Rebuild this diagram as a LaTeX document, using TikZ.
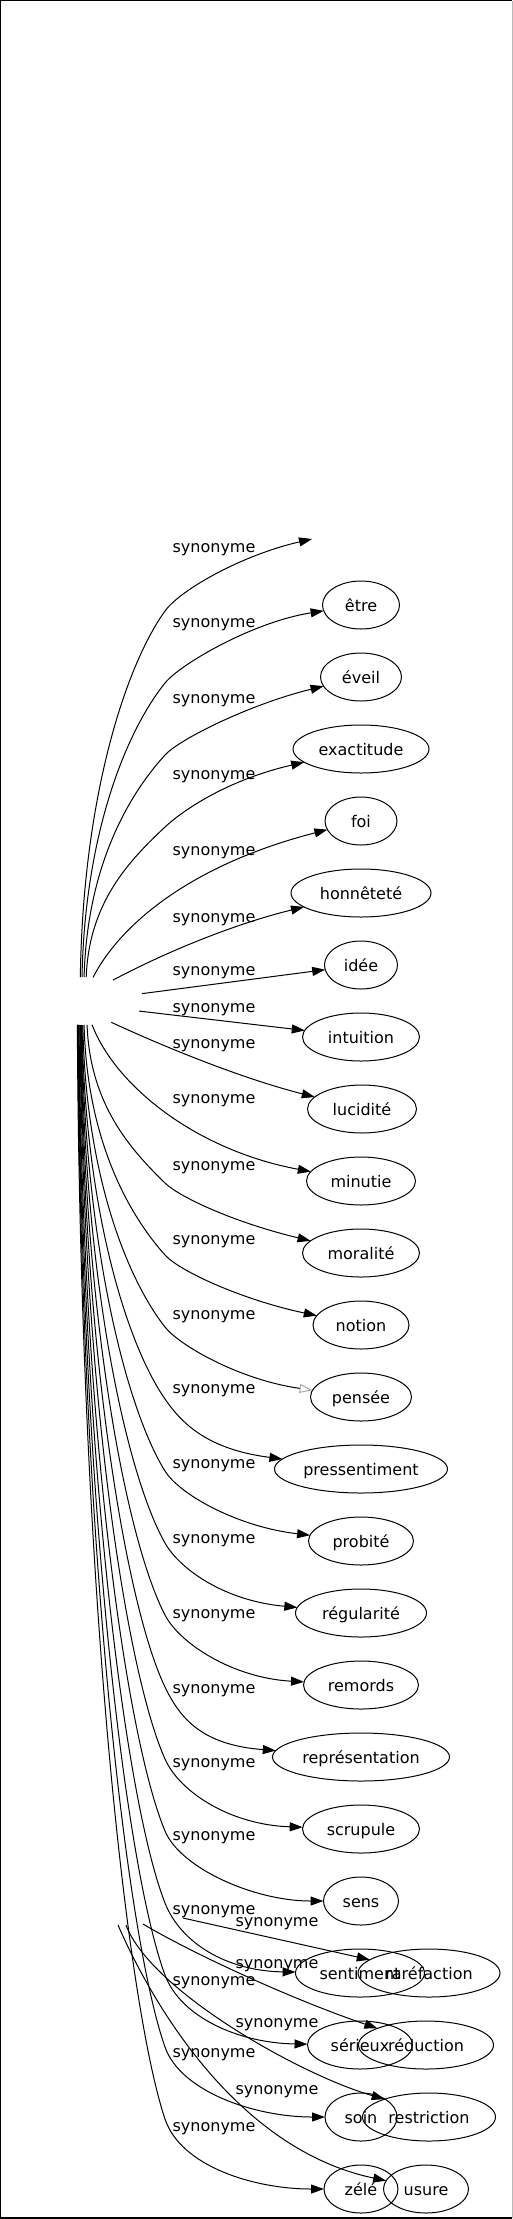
\documentclass[tikz,border=0pt]{standalone}
\usepackage{fontspec}
\setmainfont{DejaVu Sans}
\usetikzlibrary{arrows.meta,shapes.geometric}

\newcommand\myupedge[7]{%
  \pgfmathsetmacro\myang{atan2(24,#4-82)}%
  \pgfmathsetmacro\myky{#3+78}%
  \pgfmathsetmacro\myD{977-\myky}%
  \pgfmathsetmacro\mycay{977-0.5*\myD}%
  \pgfmathsetmacro\mycax{#4+3}%
  \pgfmathsetmacro\mycbx{165-0.45*(165-#4)}%
  \pgfmathsetmacro\mycby{\myky+0.09*\myD+20}%
  \pgfmathsetmacro\myccx{165+0.4*(165-\mycbx)}%
  \pgfmathsetmacro\myccy{\myky+0.4*(\myky-\mycby)}%
  \pgfmathsetmacro\mycdx{361-#6-70}%
  \pgfmathsetmacro\mycdy{#3+(#5)}%
  \pgfmathsetmacro\mylby{#7+5}%
  \draw[#1] (src.\myang) .. controls (\mycax,\mycay) and (\mycbx,\mycby) .. (165,\myky) .. controls (\myccx,\myccy) and (\mycdx,\mycdy) .. (#2);
  \node[lbl] (l#2) at (214,\mylby) {synonyme};
}
\newcommand\mylowedge[7]{%
  \pgfmathsetmacro\myang{atan2(-24,#4-82)}%
  \pgfmathsetmacro\myky{#3-70}%
  \pgfmathsetmacro\myD{\myky-1025}%
  \pgfmathsetmacro\mycay{1025+0.5*\myD}%
  \pgfmathsetmacro\mycax{#4+3}%
  \pgfmathsetmacro\mycbx{165-0.45*(165-#4)}%
  \pgfmathsetmacro\mycby{\myky-0.09*\myD-20}%
  \pgfmathsetmacro\myccx{165+0.4*(165-\mycbx)}%
  \pgfmathsetmacro\myccy{\myky+0.4*(\myky-\mycby)}%
  \pgfmathsetmacro\mycdx{361-#6-70}%
  \pgfmathsetmacro\mycdy{#3+(#5)}%
  \pgfmathsetmacro\mylby{#7+5}%
  \draw[#1] (src.\myang) .. controls (\mycax,\mycay) and (\mycbx,\mycby) .. (165,\myky) .. controls (\myccx,\myccy) and (\mycdx,\mycdy) .. (#2);
  \node[lbl] (l#2) at (214,\mylby) {synonyme};
}

\begin{document}
\begin{tikzpicture}[x=1pt,y=-1pt,
  every node/.style={font=\fontsize{16}{19}\selectfont},
  nd/.style={ellipse,draw,line width=1pt,inner sep=0pt,outer sep=0pt,minimum height=48pt,text height=15pt,text depth=3pt},
  lbl/.style={anchor=base,inner sep=0pt},
  syn/.style={line width=1pt,-{Triangle[length=13pt,width=9pt]}},
  synp/.style={line width=1pt,-{Triangle[open,length=13pt,width=9pt,color=black!35]}},
]
\useasboundingbox (0,0) rectangle (513,2219);
\draw[line width=1.2pt] (512.4,2217.9) -- (0.6,2217.9) -- (0.6,0.6) -- (512.4,0.6);
\draw[line width=1pt,gray!55] (512.4,0.6) -- (512.4,2217.9);

% invisible source
\node[ellipse,inner sep=0pt,outer sep=0pt,minimum width=126pt,minimum height=48pt] (src) at (82,1001) {};
\coordinate (n0) at (312,539);

% targets
\node[nd,minimum width=77pt]  (n1)  at (361,605)  {être};
\node[nd,minimum width=81pt]  (n2)  at (361,677)  {éveil};
\node[nd,minimum width=136pt] (n3)  at (361,749)  {exactitude};
\node[nd,minimum width=72pt]  (n4)  at (361,821)  {foi};
\node[nd,minimum width=140pt] (n5)  at (361,893)  {honnêteté};
\node[nd,minimum width=73pt]  (n6)  at (361,965)  {idée};
\node[nd,minimum width=117pt] (n7)  at (361,1037) {intuition};
\node[nd,minimum width=109pt] (n8)  at (362,1109) {lucidité};
\node[nd,minimum width=109pt] (n9)  at (361,1181) {minutie};
\node[nd,minimum width=117pt] (n10) at (361,1253) {moralité};
\node[nd,minimum width=96pt]  (n11) at (361,1325) {notion};
\node[nd,minimum width=101pt] (n12) at (361,1397) {pensée};
\node[nd,minimum width=173pt] (n13) at (361,1469) {pressentiment};
\node[nd,minimum width=105pt] (n14) at (361,1541) {probité};
\node[nd,minimum width=131pt] (n15) at (361,1613) {régularité};
\node[nd,minimum width=115pt] (n16) at (361,1685) {remords};
\node[nd,minimum width=177pt] (n17) at (361,1757) {représentation};
\node[nd,minimum width=117pt] (n18) at (361,1829) {scrupule};
\node[nd,minimum width=75pt]  (n19) at (361,1901) {sens};
\node[nd,minimum width=129pt] (n20) at (360,1973) {sentiment};
\node[nd,minimum width=105pt] (n21) at (360,2045) {sérieux};
\node[nd,minimum width=72pt]  (n22) at (361,2117) {soin};
\node[nd,minimum width=74pt]  (n23) at (361,2189) {zélé};
\node[nd,minimum width=142pt] (r1)  at (429,1973) {raréfaction};
\node[nd,minimum width=135pt] (r2)  at (426,2045) {réduction};
\node[nd,minimum width=133pt] (r3)  at (429,2117) {restriction};
\node[nd,minimum width=85pt]  (r4)  at (426,2189) {usure};

% upper edges
\myupedge{syn}{n0}{533}{80}{22}{49}{547}
\myupedge{syn}{n1}{605}{82}{17}{38.5}{622}
\myupedge{syn}{n2}{677}{84}{27}{40.5}{698}
\myupedge{syn}{n3}{749}{86}{32}{68}{774}
\draw[syn] (src.65.4) .. controls (120,925) and (190,865) .. (n4);
\node[lbl] (ln4) at (214,855) {synonyme};

% near edges
\draw[syn] (src.34.1) .. controls (160,955) and (230,925) .. (n5);
\node[lbl] (ln5) at (214,922) {synonyme};
\draw[syn] (src.7.5) -- (n6);
\node[lbl] (ln6) at (214,975) {synonyme};
\draw[syn] (src.-10.9) -- (n7);
\node[lbl] (ln7) at (214,1012) {synonyme};
\draw[syn] (src.-36.9) .. controls (160,1045) and (240,1078) .. (n8);
\node[lbl] (ln8) at (214,1048) {synonyme};

% lower edges
\draw[syn] (src.-67.4) .. controls (115,1085) and (195,1150) .. (n9);
\node[lbl] (ln9) at (214,1103) {synonyme};
\mylowedge{syn}{n10}{1253}{87}{-31}{58.5}{1165}
\mylowedge{syn}{n11}{1325}{84}{-25}{48}{1239}
\mylowedge{synp}{n12}{1397}{82.5}{-17}{50.7}{1314}
\mylowedge{syn}{n13}{1469}{82}{-20}{86.7}{1388}
\mylowedge{syn}{n14}{1541}{81.5}{-14}{52.5}{1463}
\mylowedge{syn}{n15}{1613}{81}{-12}{65.7}{1538}
\mylowedge{syn}{n16}{1685}{80.5}{-7}{57.3}{1613}
\mylowedge{syn}{n17}{1757}{80}{-12}{88.5}{1688}
\mylowedge{syn}{n18}{1829}{79.5}{-4}{58.7}{1762}
\mylowedge{syn}{n19}{1901}{79}{0}{37.3}{1835}
\mylowedge{syn}{n20}{1973}{78.5}{-2}{64.7}{1909}
\mylowedge{syn}{n21}{2045}{78}{-2}{52.3}{1980}
\mylowedge{syn}{n22}{2117}{77.5}{0}{36}{2052}
\mylowedge{syn}{n23}{2189}{77}{0}{37}{2126}

% right column edges
\coordinate (q1) at (183,1918);
\coordinate (q2) at (143,1924);
\coordinate (q3) at (126,1925);
\coordinate (q4) at (118,1925);
\draw[syn] (q1) -- (r1);
\draw[syn] (q2) .. controls (183,1948) and (280,1995) .. (r2);
\draw[syn] (q3) .. controls (150,1990) and (300,2075) .. (r3.158);
\draw[syn] (q4) .. controls (155,2010) and (240,2150) .. (r4);
\node[lbl] (lr1) at (277,1926) {synonyme};
\node[lbl] (lr2) at (277,1968) {synonyme};
\node[lbl] (lr3) at (277,2027) {synonyme};
\node[lbl] (lr4) at (277,2094) {synonyme};
\end{tikzpicture}
\end{document}
